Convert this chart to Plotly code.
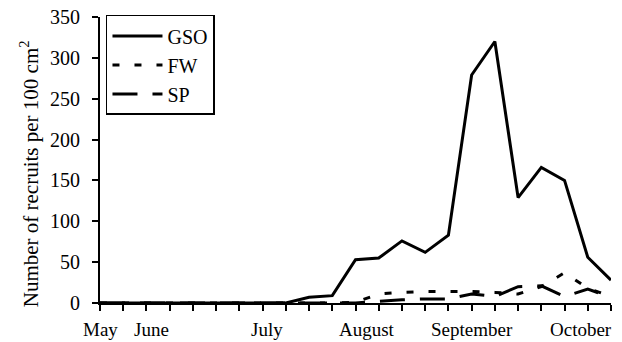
import plotly.graph_objects as go

# x positions: 23 sampling dates (index 0..22)
idx = list(range(23))
gso = [0, 0, 0, 0, 0, 0, 0, 0, 0, 7, 9, 53, 55, 76, 62, 83, 279, 320, 129, 166, 150, 56, 28]
fw = [0, 0, 0, 0, 0, 0, 0, 0, 0, 0, 0, 1, 11, 13, 14, 14, 14, 13, 11, 20, 37, 18, 8]
sp = [0, 0, 0, 0, 0, 0, 0, 0, 0, 0, 0, 0, 2, 4, 5, 5, 11, 8, 20, 21, 8, 17, 7]

series_names = ["GSO", "FW", "SP"]
month_labels = ["May", "June", "July", "August", "September", "October"]
month_pos = [0, 2.2, 7.2, 11.5, 16.0, 20.7]
y_ticks = [0, 50, 100, 150, 200, 250, 300, 350]
y_title = "Number of recruits per 100 cm<sup>2</sup>"

FONT = "Liberation Serif"

fig = go.Figure()
fig.add_trace(go.Scatter(x=idx, y=gso, mode="lines", name=series_names[0],
                         line=dict(color="black", width=3)))
fig.add_trace(go.Scatter(x=idx, y=fw, mode="lines", name=series_names[1],
                         line=dict(color="black", width=3, dash="7px,15px")))
fig.add_trace(go.Scatter(x=idx, y=sp, mode="lines", name=series_names[2],
                         line=dict(color="black", width=3, dash="25px,15px")))

for lab, pos in zip(month_labels, month_pos):
    fig.add_annotation(x=pos, y=0, xref="x", yref="paper", text=lab,
                       showarrow=False, xanchor="center", yanchor="top",
                       yshift=-14, font=dict(family=FONT, size=19, color="black"))

fig.add_annotation(x=-0.1378, y=0.4522, xref="paper", yref="paper", text=y_title,
                   textangle=-90, showarrow=False, xanchor="center", yanchor="middle",
                   font=dict(family=FONT, size=21, color="black"))

# page is rendered with an 8px body margin, so the figure is offset by 8px
fig.update_layout(
    width=614, height=334,
    margin=dict(l=92, r=10.5, t=8, b=38.5),
    paper_bgcolor="white", plot_bgcolor="white",
    font=dict(family=FONT, size=19, color="black"),
    showlegend=True,
    legend=dict(x=0.0117, y=1.0035, xanchor="left", yanchor="top",
                bordercolor="black", borderwidth=1.5, bgcolor="white",
                font=dict(family=FONT, size=20, color="black"),
                itemwidth=50, tracegroupgap=0),
    xaxis=dict(range=[0, 22], tickvals=idx, ticktext=[""] * len(idx),
               ticks="outside", ticklen=6, tickwidth=1.5, tickcolor="black",
               showline=True, linecolor="black", linewidth=2, automargin=False,
               showgrid=False, zeroline=False, fixedrange=True),
    yaxis=dict(range=[0, 350], tickvals=y_ticks, automargin=False,
               ticks="outside", ticklen=6, tickwidth=1.5, tickcolor="black",
               ticklabelstandoff=8, ticklabeloverflow="allow",
               showline=True, linecolor="black", linewidth=2,
               showgrid=False, zeroline=False,
               tickfont=dict(family=FONT, size=20, color="black")),
)

fig.write_html("out.html")
